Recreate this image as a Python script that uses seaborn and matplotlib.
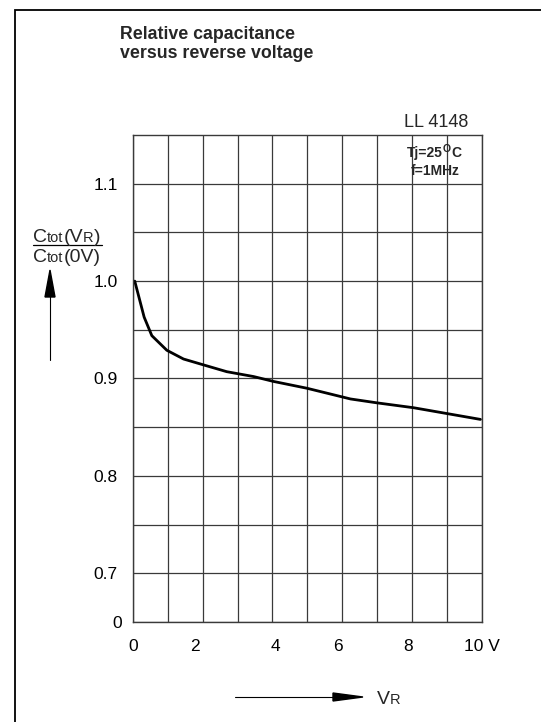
import numpy as np
import pandas as pd
import matplotlib
matplotlib.use("Agg")
import matplotlib.pyplot as plt
import matplotlib.patches as patches
import matplotlib.transforms as mtransforms
from matplotlib.ticker import MultipleLocator
import seaborn as sns

# curve
vr = [0.05, 0.32, 0.54, 0.97, 1.45, 2.02, 2.69, 3.46, 4.03, 4.99, 6.24, 7.0, 8.05, 9.01, 9.97]
ctot_rel = [1.0, 0.963, 0.944, 0.929, 0.920, 0.914, 0.907, 0.902, 0.897, 0.890, 0.879, 0.875, 0.870, 0.864, 0.858]

x_ticks = [0, 2, 4, 6, 8, 10]
x_labels = ["0", "2", "4", "6", "8", "10 V"]
y_ticks = [0.65, 0.70, 0.75, 0.80, 0.85, 0.90, 0.95, 1.00, 1.05, 1.10]
y_labels = ["0", "0.7", "", "0.8", "", "0.9", "", "1.0", "", "1.1"]

df = pd.DataFrame({"VR": vr, "C": ctot_rel})

sns.set_style("white")
plt.rcParams['font.family'] = ['Liberation Sans', 'DejaVu Sans']

W, H = 541, 722
fig = plt.figure(figsize=(W / 100, H / 100), dpi=100)
ax = fig.add_axes([133 / W, 1 - 622 / H, (481.5 - 133) / W, (622 - 135) / H])

grid_col = "#3a3a3a"
sns.lineplot(data=df, x="VR", y="C", ax=ax, color="black", linewidth=2.0)

ax.set_xlim(0, 10)
ax.set_ylim(0.65, 1.15)
ax.set_xticks(x_ticks, x_labels)
ax.xaxis.set_minor_locator(MultipleLocator(1))
ax.set_yticks(y_ticks, y_labels)
ax.grid(True, which="both", color=grid_col, linewidth=0.9)
ax.tick_params(axis="both", which="both", length=0, labelsize=12.5, colors="black")
ax.tick_params(axis="x", pad=12)
ax.tick_params(axis="y", pad=11)
ax.set_xlabel("")
ax.set_ylabel("")
for s in ax.spines.values():
    s.set_color(grid_col)
    s.set_linewidth(1.0)

# the hand-set labels in the datasheet sit a little off their grid lines
x_shift = [0, -8, 3, -4, -4, 0]
for lab, dx in zip(ax.get_xticklabels(), x_shift):
    lab.set_transform(lab.get_transform() + mtransforms.ScaledTranslation(dx / 100, 0, fig.dpi_scale_trans))
ylab0 = ax.get_yticklabels()[0]
ylab0.set_transform(ylab0.get_transform() + mtransforms.ScaledTranslation(4 / 100, 0, fig.dpi_scale_trans))

# outer frame
fig.patches.append(patches.Rectangle((15 / W, -0.05), 1.2, 1.05 - 10 / H, transform=fig.transFigure,
                                     fill=False, edgecolor="black", linewidth=1.3))

fig.text(120 / W, 1 - 39 / H, "Relative capacitance", fontsize=12.8, fontweight="bold", va="baseline")
fig.text(120 / W, 1 - 58 / H, "versus reverse voltage", fontsize=12.8, fontweight="bold", va="baseline")
fig.text(436 / W, 1 - 127 / H, "LL 4148", fontsize=13, ha="center", va="baseline")

renderer = fig.canvas.get_renderer()


def chain(x, y, pieces, **kw):
    # writes pieces one after another, (text, size, rise in px)
    for s, size, rise in pieces:
        t = fig.text(x / W, 1 - (y - rise) / H, s, fontsize=size, va="baseline", ha="left", **kw)
        x += t.get_window_extent(renderer).width
    return x


chain(33, 242, [("C", 14, 0), ("tot", 10.5, 0), ("(V", 14, 0), ("R", 10.5, 0), (")", 14, 0)])
chain(33, 262, [("C", 14, 0), ("tot", 10.5, 0), ("(0V)", 14, 0)])
fig.add_artist(plt.Line2D([33 / W, 102 / W], [1 - 245 / H, 1 - 245 / H], color="black", linewidth=0.9))

chain(407, 157, [("Tj=25", 10, 0), ("O", 7.5, 5), ("C", 10, 0)], fontweight="bold")
fig.text(435 / W, 1 - 175 / H, "f=1MHz", fontsize=10, fontweight="bold", ha="center", va="baseline")

# y arrow
fig.add_artist(plt.Line2D([50 / W, 50 / W], [1 - 360 / H, 1 - 290 / H], color="black", linewidth=0.8))
fig.patches.append(patches.Polygon([[50 / W, 1 - 270 / H], [45 / W, 1 - 297 / H], [55 / W, 1 - 297 / H]],
                                   closed=True, transform=fig.transFigure, color="black"))
# x arrow
fig.add_artist(plt.Line2D([235 / W, 340 / W], [1 - 697 / H, 1 - 697 / H], color="black", linewidth=0.8))
fig.patches.append(patches.Polygon([[363 / W, 1 - 697 / H], [333 / W, 1 - 693 / H], [333 / W, 1 - 701 / H]],
                                   closed=True, transform=fig.transFigure, color="black"))
chain(377, 704, [("V", 14, 0), ("R", 10.5, 0)])

fig.savefig("out.png", dpi=100)
